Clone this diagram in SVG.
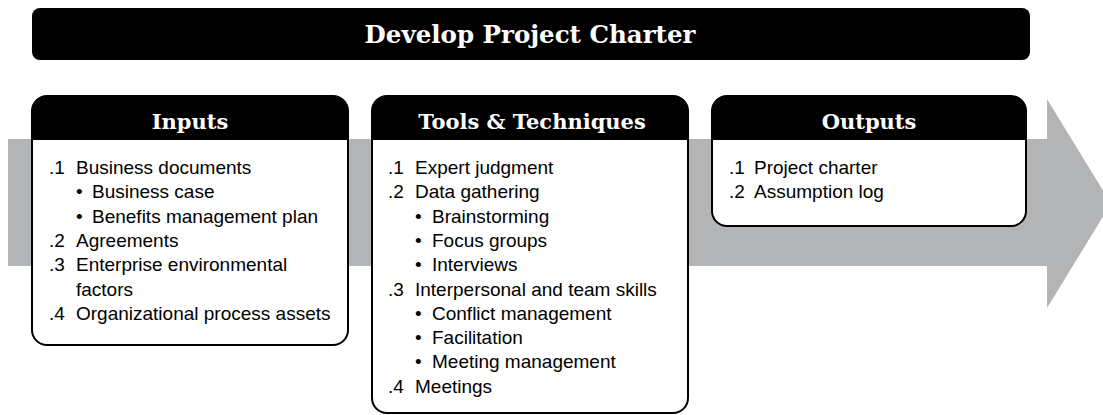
<svg xmlns="http://www.w3.org/2000/svg" width="1103" height="415" viewBox="0 0 1103 415">
  <style>
    .hdr { fill: #000; }
    .box { fill: #fff; stroke: #000; stroke-width: 2; }
    .slab { font-family: "DejaVu Serif", "Liberation Serif", serif; font-weight: bold; fill: #fff; text-anchor: middle; }
    .item { font-family: "Liberation Sans", Arial, sans-serif; font-size: 19px; fill: #000; }
  </style>
  <rect width="1103" height="415" fill="#fff"/>
  <g id="process-arrow">
    <polygon points="8,139 1047,139 1047,99 1111,203.5 1047,308 1047,266 8,266" fill="#b2b4b6"/>
  </g>
  <g id="title">
    <rect x="32" y="8" width="998" height="52" rx="8" ry="8" fill="#000"/>
    <text class="slab" x="530" y="43" font-size="24.5">Develop Project Charter</text>
  </g>
  <g id="inputs">
    <rect class="box" x="32" y="96" width="316" height="249" rx="15" ry="15"/>
    <path class="hdr" d="M32,140 V111 A15,15 0 0 1 47,96 H333 A15,15 0 0 1 348,111 V140 Z"/>
    <text class="slab" x="190" y="128.5" font-size="21">Inputs</text>
    <text class="item">
      <tspan x="49" y="174">.1</tspan><tspan x="76" y="174">Business documents</tspan>
      <tspan x="76" y="198.3">•</tspan><tspan x="92" y="198.3">Business case</tspan>
      <tspan x="76" y="222.6">•</tspan><tspan x="92" y="222.6">Benefits management plan</tspan>
      <tspan x="49" y="246.9">.2</tspan><tspan x="76" y="246.9">Agreements</tspan>
      <tspan x="49" y="271.2">.3</tspan><tspan x="76" y="271.2">Enterprise environmental</tspan>
      <tspan x="76" y="295.5">factors</tspan>
      <tspan x="49" y="319.8">.4</tspan><tspan x="76" y="319.8">Organizational process assets</tspan>
    </text>
  </g>
  <g id="tools-techniques">
    <rect class="box" x="372" y="96" width="316" height="317" rx="15" ry="15"/>
    <path class="hdr" d="M372,140 V111 A15,15 0 0 1 387,96 H673 A15,15 0 0 1 688,111 V140 Z"/>
    <text class="slab" x="532" y="128.5" font-size="21">Tools &amp; Techniques</text>
    <text class="item">
      <tspan x="388" y="174">.1</tspan><tspan x="415" y="174">Expert judgment</tspan>
      <tspan x="388" y="198.3">.2</tspan><tspan x="415" y="198.3">Data gathering</tspan>
      <tspan x="415" y="222.6">•</tspan><tspan x="432" y="222.6">Brainstorming</tspan>
      <tspan x="415" y="246.9">•</tspan><tspan x="432" y="246.9">Focus groups</tspan>
      <tspan x="415" y="271.2">•</tspan><tspan x="432" y="271.2">Interviews</tspan>
      <tspan x="388" y="295.5">.3</tspan><tspan x="415" y="295.5">Interpersonal and team skills</tspan>
      <tspan x="415" y="319.8">•</tspan><tspan x="432" y="319.8">Conflict management</tspan>
      <tspan x="415" y="344.1">•</tspan><tspan x="432" y="344.1">Facilitation</tspan>
      <tspan x="415" y="368.4">•</tspan><tspan x="432" y="368.4">Meeting management</tspan>
      <tspan x="388" y="392.7">.4</tspan><tspan x="415" y="392.7">Meetings</tspan>
    </text>
  </g>
  <g id="outputs">
    <rect class="box" x="712" y="96" width="314" height="130" rx="15" ry="15"/>
    <path class="hdr" d="M712,140 V111 A15,15 0 0 1 727,96 H1011 A15,15 0 0 1 1026,111 V140 Z"/>
    <text class="slab" x="869" y="128.5" font-size="21">Outputs</text>
    <text class="item">
      <tspan x="729" y="174">.1</tspan><tspan x="754" y="174">Project charter</tspan>
      <tspan x="729" y="198.3">.2</tspan><tspan x="754" y="198.3">Assumption log</tspan>
    </text>
  </g>
</svg>
